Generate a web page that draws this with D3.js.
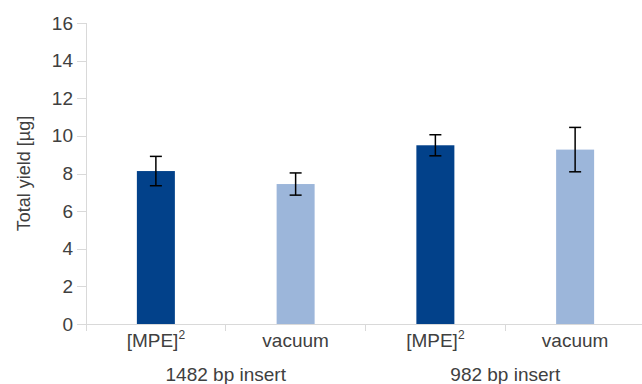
<!DOCTYPE html>
<html lang="en">
<head>
    <meta charset="UTF-8">
    <title>Total yield</title>
    <script type="text/javascript" src="https://cdn.jsdelivr.net/npm/d3@7"></script>
</head>
<style>
    body{ margin:0; background:#fff; }
    text{ font-family: "Liberation Sans", Arial, sans-serif; fill:#404040; }
    .axis path,.axis line{
        fill:none;
        stroke:#d9d9d9;
        shape-rendering: crispEdges;
    }
    .axis text{ font-size:19px; fill:#404040; }
</style>
<body>
<script>
    var width = 642;
    var height = 384;

    // data
    var groups = ["1482 bp insert", "982 bp insert"];
    var methods = ["[MPE]", "vacuum", "[MPE]", "vacuum"];
    var superscripts = ["2", "", "2", ""];
    var yields = [8.13, 7.44, 9.5, 9.27];
    var errors = [0.78, 0.59, 0.56, 1.18];
    var yTicks = [0, 2, 4, 6, 8, 10, 12, 14, 16];

    var colors = ["#02418a", "#9cb6da"];

    var svg = d3.select("body")
            .append("svg")
            .attr("width", width)
            .attr("height", height);

    var padding = {left:86, right:-3, top:23, bottom:60};

    var xScale = d3.scaleBand()
            .domain(d3.range(yields.length))
            .range([padding.left, width - padding.right]);

    var groupScale = d3.scaleBand()
            .domain(groups)
            .range([padding.left, width - padding.right]);

    var yScale = d3.scaleLinear()
            .domain([0, 16])
            .range([height - padding.bottom, padding.top]);

    var barWidth = 38;
    var capWidth = 12;

    // y axis
    var yAxis = d3.axisLeft(yScale)
            .tickValues(yTicks)
            .tickSize(9)
            .tickPadding(4);

    var gy = svg.append("g")
            .attr("class", "axis")
            .attr("transform", "translate(" + padding.left + ",0)")
            .call(yAxis);
    gy.select(".domain").remove();
    gy.append("line")
            .attr("x1", 0).attr("x2", 0)
            .attr("y1", yScale(16)).attr("y2", yScale(0) + 7);

    // x axis line with category dividers
    var y0 = yScale(0);
    svg.append("line")
            .attr("class", "axisLine")
            .attr("x1", padding.left).attr("x2", width)
            .attr("y1", y0).attr("y2", y0)
            .attr("stroke", "#d9d9d9")
            .attr("shape-rendering", "crispEdges");

    svg.selectAll(".divider")
            .data(d3.range(1, yields.length))
            .enter()
            .append("line")
            .attr("class", "divider")
            .attr("x1", function(d){ return xScale(d); })
            .attr("x2", function(d){ return xScale(d); })
            .attr("y1", y0)
            .attr("y2", y0 + 7)
            .attr("stroke", "#d9d9d9")
            .attr("shape-rendering", "crispEdges");

    // bars
    svg.selectAll(".bar")
            .data(yields)
            .enter()
            .append("rect")
            .attr("class", "bar")
            .attr("x", function(d, i){ return xScale(i) + (xScale.bandwidth() - barWidth) / 2; })
            .attr("width", barWidth)
            .attr("y", function(d){ return yScale(d); })
            .attr("height", function(d){ return y0 - yScale(d); })
            .attr("fill", function(d, i){ return colors[i % 2]; });

    // error bars
    var err = svg.selectAll(".err")
            .data(yields)
            .enter()
            .append("g")
            .attr("class", "err")
            .attr("transform", function(d, i){
                return "translate(" + (xScale(i) + xScale.bandwidth() / 2) + ",0)";
            })
            .attr("stroke", "#000")
            .attr("stroke-width", 1.5);

    err.append("line")
            .attr("x1", 0).attr("x2", 0)
            .attr("y1", function(d, i){ return yScale(d + errors[i]); })
            .attr("y2", function(d, i){ return yScale(d - errors[i]); });
    err.append("line")
            .attr("x1", -capWidth / 2).attr("x2", capWidth / 2)
            .attr("y1", function(d, i){ return yScale(d + errors[i]); })
            .attr("y2", function(d, i){ return yScale(d + errors[i]); });
    err.append("line")
            .attr("x1", -capWidth / 2).attr("x2", capWidth / 2)
            .attr("y1", function(d, i){ return yScale(d - errors[i]); })
            .attr("y2", function(d, i){ return yScale(d - errors[i]); });

    // category labels
    var cat = svg.selectAll(".cat")
            .data(methods)
            .enter()
            .append("text")
            .attr("class", "cat")
            .attr("x", function(d, i){ return xScale(i) + xScale.bandwidth() / 2; })
            .attr("y", y0 + 23)
            .attr("text-anchor", "middle")
            .attr("font-size", "19px");
    cat.append("tspan").text(function(d){ return d; });
    cat.append("tspan")
            .attr("dy", -8)
            .attr("font-size", "12px")
            .text(function(d, i){ return superscripts[i]; });

    // group labels
    svg.selectAll(".grp")
            .data(groups)
            .enter()
            .append("text")
            .attr("class", "grp")
            .attr("x", function(d){ return groupScale(d) + groupScale.bandwidth() / 2; })
            .attr("y", y0 + 57)
            .attr("text-anchor", "middle")
            .attr("font-size", "19px")
            .text(function(d){ return d; });

    // y title
    svg.append("text")
            .attr("transform", "translate(30," + yScale(8) + ") rotate(-90)")
            .attr("text-anchor", "middle")
            .attr("font-size", "18px")
            .text("Total yield [µg]");
</script>
</body>
</html>
